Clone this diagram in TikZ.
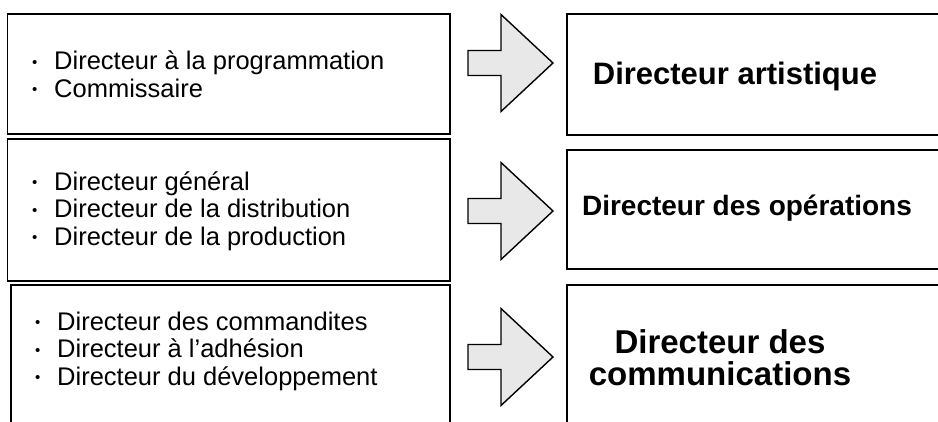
\documentclass[tikz,border=0pt]{standalone}
\usepackage{fontspec}
\setmainfont{Liberation Sans}
\begin{document}
\begin{tikzpicture}[x=1pt,y=-1pt,
  box/.style={draw=black, line width=1.8pt, fill=none},
  barrow/.style={draw=black, line width=1.4pt, fill=black!9, line join=miter},
  lefttext/.style={anchor=west, align=left, inner sep=0pt, font=\fontsize{25.5}{27.5}\selectfont},
  righttext/.style={align=center, inner sep=0pt, font=\bfseries\fontsize{#1}{32}\selectfont}]
\useasboundingbox (0,0) rectangle (938,421);
\begin{scope}
\clip (0,0) rectangle (938,421);
% left boxes
\draw[box] (7.5,14) rectangle (450,134);
\draw[box] (7.5,139) rectangle (450,281);
\draw[box] (11,285) rectangle (450,440);
% right boxes
\draw[box] (567,14) rectangle (960,135);
\draw[box] (567,150) rectangle (960,269);
\draw[box] (567,285) rectangle (960,440);
% block arrows
\foreach \cy in {63,211,357}{
  \draw[barrow] (468,\cy-12.5) -- (501,\cy-12.5) -- (501,\cy-48.5) -- (553,\cy)
    -- (501,\cy+48.5) -- (501,\cy+12.5) -- (468,\cy+12.5) -- cycle;
}
\end{scope}
\newcommand{\bl}{\makebox[22pt][l]{\raisebox{2.5pt}{\fontsize{15}{15}\selectfont •}}}
% left texts
\node[lefttext] (t1) at (32,74) {\bl Directeur à la programmation\\ \bl Commissaire};
\node[lefttext] (t2) at (32,211) {\bl Directeur général\\ \bl Directeur de la distribution\\ \bl Directeur de la production};
\node[lefttext] (t3) at (35,351) {\bl Directeur des commandites\\ \bl Directeur à l’adhésion\\ \bl Directeur du développement};
% right texts
\node[righttext=31] (r1) at (735,76) {Directeur artistique};
\node[righttext=28] (r2) at (747,208) {Directeur des opérations};
\node[righttext=33] (r3) at (720,358) {Directeur des\\communications};
\end{tikzpicture}
\end{document}
